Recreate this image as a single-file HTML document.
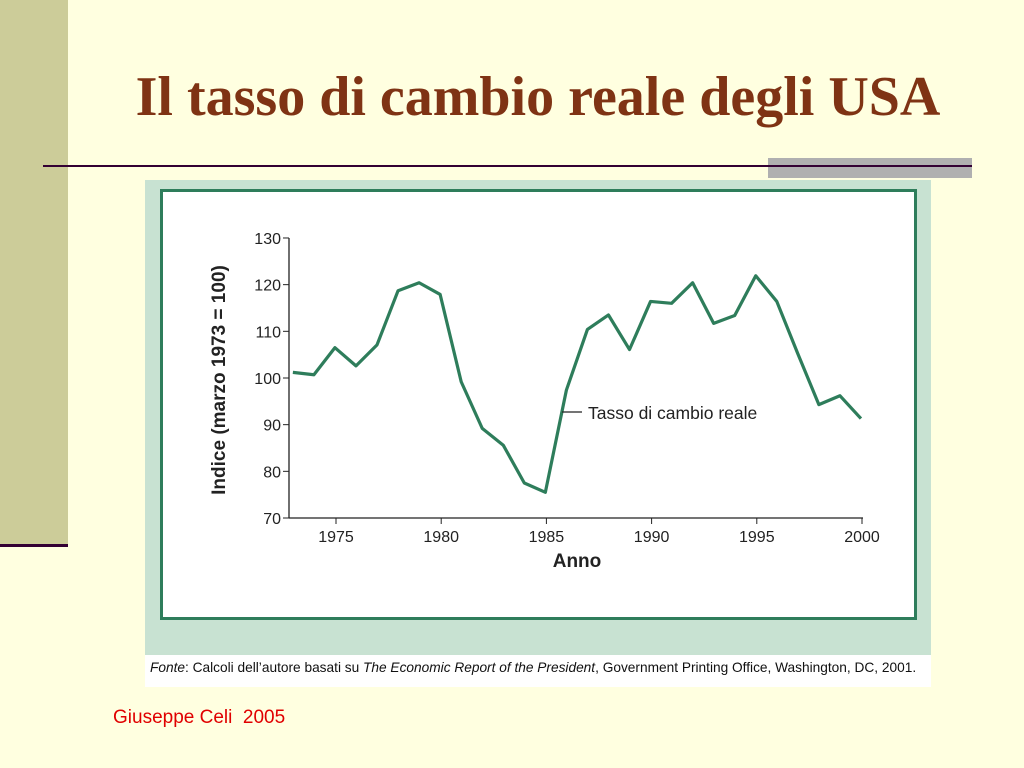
<!DOCTYPE html>
<html><head><meta charset="utf-8"><style>
body{margin:0;width:1024px;height:768px;background:#FFFFE0;position:relative;overflow:hidden;font-family:"Liberation Sans",sans-serif}
.a{position:absolute}
</style></head><body>
<div class="a" style="left:0;top:0;width:68px;height:545px;background:#CCCC99"></div>
<div class="a" style="left:0;top:544px;width:68px;height:3px;background:#330033"></div>
<div class="a" style="left:68px;width:940px;top:62px;text-align:center;font-family:'Liberation Serif',serif;font-weight:bold;font-size:56px;line-height:70px;color:#7F3314;white-space:nowrap">Il tasso di cambio reale degli USA</div>
<div class="a" style="left:768px;top:158px;width:204px;height:20px;background:#B0B0B0"></div>
<div class="a" style="left:43px;top:165px;width:929px;height:2px;background:#330033"></div>
<div class="a" style="left:145px;top:180px;width:786px;height:476px;background:#C8E2D2"></div>
<div class="a" style="left:145px;top:655px;width:786px;height:32px;background:#fff"></div>
<div class="a" style="left:150px;top:660px;font-size:13.7px;color:#111;white-space:nowrap"><i>Fonte</i>: Calcoli dell’autore basati su <i>The Economic Report of the President</i>, Government Printing Office, Washington, DC, 2001.</div>
<div class="a" style="left:113px;top:707px;font-size:19px;color:#E00000;white-space:pre">Giuseppe Celi  2005</div>
<svg class="a" style="left:0;top:0" width="1024" height="768">
<rect x="161.5" y="190.5" width="754" height="428" fill="#fff" stroke="#2E7D5B" stroke-width="3"/>
<g id="g" font-family="Liberation Sans,sans-serif"></g>
</svg>
<script>
const years=[1973,1974,1975,1976,1977,1978,1979,1980,1981,1982,1983,1984,1985,1986,1987,1988,1989,1990,1991,1992,1993,1994,1995,1996,1997,1998,1999,2000];
const values=[101.2,100.7,106.5,102.6,107.1,118.7,120.4,117.9,99.2,89.2,85.6,77.5,75.5,97.4,110.4,113.5,106.1,116.4,116.0,120.4,111.7,113.4,121.9,116.4,105.2,94.3,96.2,91.3];
const yTicks=[70,80,90,100,110,120,130];
const xTicks=[1975,1980,1985,1990,1995,2000];
const NS='http://www.w3.org/2000/svg',g=document.getElementById('g');
const X=y=>336+(y-1975)*21.04, Y=v=>518-(v-70)*4.667;
function mk(t,a,txt){const e=document.createElementNS(NS,t);for(const k in a)e.setAttribute(k,a[k]);if(txt!=null)e.textContent=txt;g.appendChild(e);return e;}
let e=mk('line',{x1:289,y1:238,x2:289,y2:518,stroke:'#222','stroke-width':1.3});


e=mk('line',{x1:289,y1:518,x2:863,y2:518,stroke:'#222','stroke-width':1.3});


yTicks.forEach(v=>{mk('line',{x1:283,x2:289,y1:Y(v),y2:Y(v),stroke:'#222'});
e=mk('text',{x:281,y:Y(v)+6,'text-anchor':'end','font-size':16,fill:'#222'},v);

});
xTicks.forEach(v=>{mk('line',{x1:X(v),x2:X(v),y1:518,y2:524,stroke:'#222'});
e=mk('text',{x:X(v),y:542,'text-anchor':'middle','font-size':16,fill:'#222'},v);

});
e=mk('text',{x:577,y:567,'text-anchor':'middle','font-size':19,'font-weight':'bold',fill:'#222'},'Anno');


e=mk('text',{x:225,y:380,'text-anchor':'middle','font-size':19,'font-weight':'bold',fill:'#222',transform:'rotate(-90 225 380)'},'Indice (marzo 1973 = 100)');


const pts=years.map((y,i)=>X(y-0.05)+','+Y(values[i])).join(' ');
e=mk('polyline',{points:pts,fill:'none',stroke:'#2E7D5B','stroke-width':3.2,'stroke-linejoin':'round'});


mk('line',{x1:562,x2:582,y1:412,y2:412,stroke:'#222','stroke-width':1.2});
e=mk('text',{x:588,y:419,'font-size':17.5,fill:'#222'},'Tasso di cambio reale');


</script>
</body></html>
